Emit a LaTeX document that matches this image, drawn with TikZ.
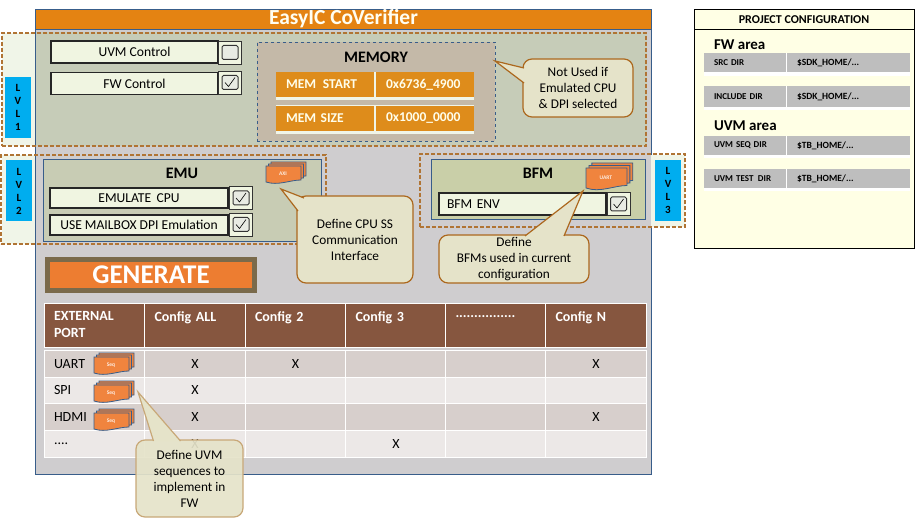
\documentclass[tikz,border=0pt]{standalone}
\usepackage{fontspec}
\setmainfont{Carlito}
\usetikzlibrary{positioning, calc}
\definecolor{headorange}{RGB}{228,131,18}
\definecolor{panelgray}{RGB}{207,205,207}
\definecolor{panelgreen}{RGB}{198,204,184}
\definecolor{emugreen}{RGB}{200,204,180}
\definecolor{bfmgreen}{RGB}{201,207,168}
\definecolor{palegreen}{RGB}{240,245,232}
\definecolor{ctrlfill}{RGB}{240,245,225}
\definecolor{memfill}{RGB}{196,185,168}
\definecolor{dashbrown}{RGB}{176,116,52}
\definecolor{edgeblue}{RGB}{56,93,138}
\definecolor{lvlblue}{RGB}{0,173,239}
\definecolor{notefill}{RGB}{229,227,201}
\definecolor{noteedge}{RGB}{172,104,30}
\definecolor{uvmedge}{RGB}{200,168,120}
\definecolor{memorange}{RGB}{222,140,27}
\definecolor{stackorange}{RGB}{240,132,62}
\definecolor{genorange}{RGB}{237,125,49}
\definecolor{genframe}{RGB}{122,106,75}
\definecolor{tablebrown}{RGB}{134,86,63}
\definecolor{rowdark}{RGB}{215,207,204}
\definecolor{rowlight}{RGB}{236,232,231}
\definecolor{dirgray}{RGB}{190,190,190}
\definecolor{projfill}{RGB}{255,255,229}

\begin{document}
\begin{tikzpicture}[x=1pt, y=-1pt]
    % Define styles
    \tikzstyle{block}=[rectangle, inner sep=0pt, outer sep=0pt, align=center]
    \tikzstyle{pale}=[block, fill=palegreen]
    \tikzstyle{dashedge}=[block, draw=dashbrown, line width=1.4pt, dash pattern=on 4pt off 2pt]
    \tikzstyle{lvl}=[block, fill=lvlblue, minimum width=26pt, minimum height=61pt, font={\fontsize{11}{13}\selectfont\bfseries}]
    \tikzstyle{ctrl}=[block, draw=black!85, line width=1.3pt, fill=ctrlfill, font={\fontsize{13.6}{15}\selectfont}]
    \tikzstyle{chk}=[block, draw=black!80, line width=0.7pt, fill=ctrlfill, minimum width=23pt, minimum height=23pt]
    \tikzstyle{chkoff}=[chk, path picture={
        \draw[black!80, line width=1pt, fill=panelgreen!40, rounded corners=1.5pt] ([shift={(-8,-7)}]path picture bounding box.center) rectangle ([shift={(8,7)}]path picture bounding box.center);}]
    \tikzstyle{chkon}=[chk, path picture={
        \draw[black!80, line width=1pt, fill=panelgreen!40, rounded corners=1.5pt] ([shift={(-8,-7)}]path picture bounding box.center) rectangle ([shift={(8,7)}]path picture bounding box.center);
        \draw[black, line width=0.6pt] ([shift={(-5,0)}]path picture bounding box.center) -- ([shift={(-1.5,4)}]path picture bounding box.center) -- ([shift={(5,-5)}]path picture bounding box.center);}]
    \tikzstyle{note}=[block, draw=noteedge, line width=1.2pt, fill=notefill, rounded corners=9pt, font={\fontsize{13.3}{16}\selectfont}]
    \tikzstyle{notetip}=[draw=noteedge, line width=1.2pt, fill=notefill, line join=miter]
    \tikzstyle{memcell}=[block, fill=memorange, minimum height=25pt, minimum width=98pt, text width=78pt, align=left, text=white!92!yellow, font={\fontsize{13.5}{15}\selectfont\bfseries}]
    \tikzstyle{hdr}=[block, draw=white, line width=0.8pt, fill=tablebrown, minimum height=44pt, minimum width=100.5pt, text width=81pt, align=left, text=white, font={\fontsize{14}{17}\selectfont\bfseries}]
    \tikzstyle{cell}=[block, draw=white, line width=0.8pt, minimum height=26.5pt, minimum width=100.5pt, font={\fontsize{14}{15}\selectfont}]
    \tikzstyle{roweven}=[cell, fill=rowdark]
    \tikzstyle{rowodd}=[cell, fill=rowlight]
    \tikzstyle{portcell}=[text width=81pt, align=left]
    \tikzstyle{dirlabel}=[block, fill=dirgray, minimum height=19pt, minimum width=82pt, text width=62pt, align=left, font={\fontsize{9}{10}\selectfont\bfseries}]
    \tikzstyle{dirvalue}=[block, fill=dirgray, minimum height=19pt, minimum width=123pt, text width=103pt, align=left, font={\fontsize{9.5}{10}\selectfont\bfseries}]
    \tikzstyle{areatitle}=[block, anchor=west, font={\fontsize{15}{17}\selectfont\bfseries}]
    \tikzset{docstack/.pic={
        \foreach \off in {5,2.5,0} {
            \draw[edgeblue, line width=0.8pt, fill=stackorange] (\off,-\off*0.8) -- (35+\off,-\off*0.8) -- (35+\off,14-\off*0.8) .. controls (24+\off,14-\off*0.8) and (12+\off,20-\off*0.8) .. (\off,16-\off*0.8) -- cycle;
        }
        \node[block, text=white!85!stackorange, font={\fontsize{5.5}{6}\selectfont\bfseries}] at (17,8) {\tikzpictext};
    }}

    \useasboundingbox (0,0) rectangle (915,518);

    % Main panel
    \node[block, draw=edgeblue, line width=0.9pt, fill=panelgray, minimum width=616pt, minimum height=465pt] at (343.5,241.5) (main) {};
    \node[block, draw=edgeblue, line width=0.9pt, fill=headorange, minimum width=616pt, minimum height=20pt, text=white!95!yellow, font={\fontsize{21.5}{22}\selectfont\bfseries}] at (343.5,19) (title) {EasyIC CoVerifier};

    % LVL 1 area
    \node[block, fill=panelgreen, minimum width=611pt, minimum height=114pt] at (341,89.5) (lvlarea) {};
    \node[pale, minimum width=33pt, minimum height=113pt] at (18.5,89.5) (paleone) {};
    \node[dashedge, minimum width=644pt, minimum height=113pt] at (324,89.5) (dashone) {};
    \node[lvl] at (18,107.5) (lvlone) {L\\V\\L\\1};
    \node[ctrl, minimum width=167pt, minimum height=22pt] at (134.5,52) (uvmctrl) {UVM Control};
    \node[chkoff] at (230,52.5) (uvmchk) {};
    \node[ctrl, minimum width=167pt, minimum height=22pt] at (134.5,83.5) (fwctrl) {FW Control};
    \node[chkon] at (230,82.5) (fwchk) {};

    % Memory
    \node[block, draw=edgeblue, line width=0.9pt, dashed, fill=memfill, minimum width=238pt, minimum height=99pt] at (376,91.5) (memory) {};
    \node[block, font={\fontsize{16}{17}\selectfont\bfseries}] at (376,57) (memtitle) {MEMORY};
    \node[block, fill=palegreen, minimum width=198pt, minimum height=28pt] at (375,86) (startbase) {};
    \node[memcell] at (325,84.5) (memstart) {MEM\, START};
    \node[memcell] at (425,84.5) (startval) {0x6736\_4900};
    \node[block, fill=palegreen, minimum width=198pt, minimum height=29pt] at (375,119.5) (sizebase) {};
    \node[memcell] at (325,118.5) (memsize) {MEM SIZE};
    \node[memcell] at (425,118.5) (sizeval) {0x1000\_0000};

    % Callout for memory
    \node[note, minimum width=110pt, minimum height=58pt] at (578,88) (notemem) {Not Used if\\Emulated CPU\\\& DPI selected};
    \coordinate (tipmem) at (495,61);
    \draw[notetip] ($(notemem.west)+(1,-20)$) -- (tipmem) -- ($(notemem.west)+(1,-5)$);

    % LVL 2 area
    \node[pale, minimum width=33pt, minimum height=89pt] at (18.5,199.5) (paletwo) {};
    \node[block, draw=edgeblue, line width=0.9pt, fill=emugreen, minimum width=278pt, minimum height=82pt] at (182,200) (emu) {};
    \node[dashedge, minimum width=325pt, minimum height=89pt] at (163.5,199.5) (dashtwo) {};
    \node[lvl] at (19,191) (lvltwo) {L\\V\\L\\2};
    \node[block, font={\fontsize{16}{17}\selectfont\bfseries}] at (182,173) (emutitle) {EMU};
    \node[ctrl, minimum width=178pt, minimum height=20pt] at (139,198) (emucpu) {EMULATE\, CPU};
    \node[chkon] at (241,198) (cpuchk) {};
    \node[ctrl, minimum width=178pt, minimum height=20pt] at (139,225) (mailbox) {USE MAILBOX DPI Emulation};
    \node[chkon] at (241,224.5) (mailchk) {};
    \pic[pic text=AXI] (axi) at (266,166) {docstack};

    % Callout for EMU
    \node[note, minimum width=116pt, minimum height=87pt] at (355,239.5) (notecpu) {Define CPU SS\\Communication\\Interface};
    \coordinate (tipcpu) at (281,189);
    \draw[notetip] ($(notecpu.north west)+(7,2)$) -- (tipcpu) -- ($(notecpu.north west)+(1,15)$);

    % LVL 3 area
    \node[pale, minimum width=34pt, minimum height=72pt] at (668,191) (palethree) {};
    \node[block, draw=edgeblue, line width=0.9pt, fill=bfmgreen, minimum width=214pt, minimum height=60pt] at (538,189) (bfm) {};
    \node[dashedge, minimum width=265pt, minimum height=73pt] at (552.5,190.5) (dashthree) {};
    \node[lvl] at (668,190.5) (lvlthree) {L\\V\\L\\3};
    \node[block, font={\fontsize{16}{17}\selectfont\bfseries}] at (538,173) (bfmtitle) {BFM};
    \node[ctrl, minimum width=167pt, minimum height=22pt, text width=151pt, align=left] at (522.5,204) (bfmenv) {BFM ENV};
    \node[chkon] at (618.5,204) (bfmchk) {};
    \pic[pic text=UART, xscale=1.17, yscale=1.25] (uart) at (586,168) {docstack};

    % Callout for BFM
    \node[note, minimum width=150pt, minimum height=48pt] at (514,259) (notebfm) {Define\\BFMs used in current\\configuration};
    \coordinate (tipbfm) at (583,191);
    \draw[notetip] ($(notebfm.north)+(11,1)$) -- (tipbfm) -- ($(notebfm.north)+(50,1)$);

    % Generate button
    \node[block, fill=genframe, minimum width=212pt, minimum height=36pt] at (151,275) (genbox) {};
    \node[block, fill=genorange, minimum width=202pt, minimum height=26pt, text=white, font={\fontsize{27}{28}\selectfont\bfseries}] at (151,275) (generate) {GENERATE};

    % Table header
    \node[hdr] at (94.5,325) (hport) {EXTERNAL\\PORT};
    \node[hdr] at (195,325) (hall) {Config ALL\\~};
    \node[hdr] at (295.5,325) (htwo) {Config 2\\~};
    \node[hdr] at (396,325) (hthree) {Config 3\\~};
    \node[hdr] at (496,325) (hdots) {................\\~};
    \node[hdr] at (596,325) (hn) {Config N\\~};

    % Table rows
    \node[roweven, portcell] at (94.5,364) (uartport) {UART};
    \node[roweven] at (195,364) (uartall) {X};
    \node[roweven] at (295.5,364) (uarttwo) {X};
    \node[roweven] at (396,364) (uartthree) {};
    \node[roweven] at (496,364) (uartdots) {};
    \node[roweven] at (596,364) (uartn) {X};
    \node[rowodd, portcell] at (94.5,390.5) (spiport) {SPI};
    \node[rowodd] at (195,390.5) (spiall) {X};
    \node[rowodd] at (295.5,390.5) (spitwo) {};
    \node[rowodd] at (396,390.5) (spithree) {};
    \node[rowodd] at (496,390.5) (spidots) {};
    \node[rowodd] at (596,390.5) (spin) {};
    \node[roweven, portcell] at (94.5,417) (hdmiport) {HDMI};
    \node[roweven] at (195,417) (hdmiall) {X};
    \node[roweven] at (295.5,417) (hdmitwo) {};
    \node[roweven] at (396,417) (hdmithree) {};
    \node[roweven] at (496,417) (hdmidots) {};
    \node[roweven] at (596,417) (hdmin) {X};
    \node[rowodd, portcell] at (94.5,444) (moreport) {....};
    \node[rowodd] at (195,444) (moreall) {X};
    \node[rowodd] at (295.5,444) (moretwo) {};
    \node[rowodd] at (396,444) (morethree) {X};
    \node[rowodd] at (496,444) (moredots) {};
    \node[rowodd] at (596,444) (moren) {};

    % Sequence stacks
    \pic[pic text=Seq] (uartseq) at (94,357) {docstack};
    \pic[pic text=Seq] (spiseq) at (94,385) {docstack};
    \pic[pic text=Seq] (hdmiseq) at (94,413) {docstack};

    % Callout for sequences
    \node[note, draw=uvmedge, fill=notefill, fill opacity=0.92, text opacity=1, minimum width=107pt, minimum height=77pt] at (189.5,478.5) (noteuvm) {Define UVM\\sequences to\\implement in\\FW};
    \coordinate (tipuvm) at (138,392);
    \draw[notetip, draw=uvmedge] ($(noteuvm.north)+(-36,1)$) -- (tipuvm) -- ($(noteuvm.north)+(-9,1)$);

    % Project configuration
    \node[block, draw=black, line width=0.9pt, fill=projfill, minimum width=220pt, minimum height=239pt] at (804,128.5) (project) {};
    \node[block, font={\fontsize{12}{13}\selectfont\bfseries}] at (804,20) (projtitle) {PROJECT CONFIGURATION};
    \coordinate (projleft) at (project.west |- 0,29);
    \coordinate (projright) at (project.east |- 0,29);
    \draw[black, line width=0.7pt] (projleft) -- (projright);
    \node[areatitle] at (714,44.5) (fwarea) {FW area};
    \node[block, fill=white, minimum width=206pt, minimum height=23pt] at (807,64.5) (srcbase) {};
    \node[dirlabel] at (745,62.5) (srclabel) {SRC DIR};
    \node[dirvalue] at (848.5,62.5) (srcvalue) {\$SDK\_HOME/...};
    \node[block, fill=white, minimum width=206pt, minimum height=24pt] at (807,98) (incbase) {};
    \node[dirlabel, minimum height=21pt] at (745,96.5) (inclabel) {INCLUDE DIR};
    \node[dirvalue, minimum height=21pt] at (848.5,96.5) (incvalue) {\$SDK\_HOME/...};
    \node[areatitle] at (714,125.5) (uvmarea) {UVM area};
    \node[block, fill=white, minimum width=206pt, minimum height=22pt] at (807,147) (seqbase) {};
    \node[dirlabel] at (745,145.5) (seqlabel) {UVM SEQ DIR};
    \node[dirvalue] at (848.5,145.5) (seqvalue) {\$TB\_HOME/...};
    \node[block, fill=white, minimum width=206pt, minimum height=22pt] at (807,180) (testbase) {};
    \node[dirlabel] at (745,178.5) (testlabel) {UVM TEST\, DIR};
    \node[dirvalue] at (848.5,178.5) (testvalue) {\$TB\_HOME/...};
\end{tikzpicture}
\end{document}
